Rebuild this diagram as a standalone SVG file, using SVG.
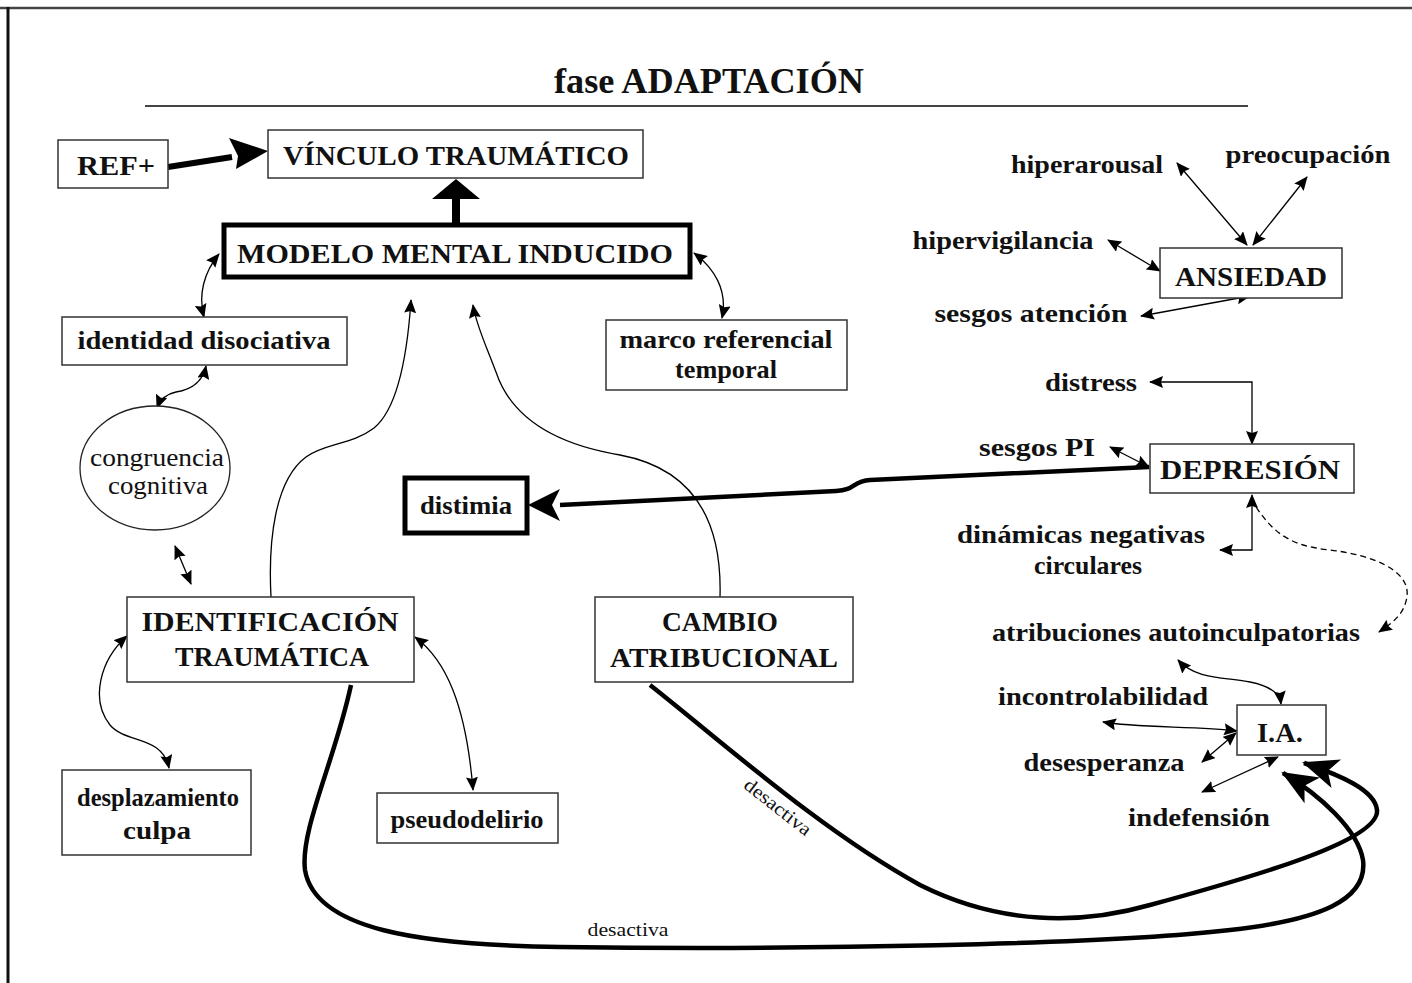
<svg xmlns="http://www.w3.org/2000/svg" width="1412" height="983" viewBox="0 0 1412 983">
<style>
text{font-family:"Liberation Serif","DejaVu Serif",serif;fill:#111;text-anchor:middle}
.b{font-weight:bold}
.cap{font-size:28px}
.lab{font-size:25px}
.box{fill:#fff;stroke:#333;stroke-width:1.5}
.tbox{fill:#fff;stroke:#000;stroke-width:5}
.thin{fill:none;stroke:#000;stroke-width:1.3}
.thick{fill:none;stroke:#000;stroke-width:4.5}
</style>
<defs>
<marker id="a" viewBox="0 0 14 12" refX="13" refY="6" markerWidth="14" markerHeight="12" markerUnits="userSpaceOnUse" orient="auto-start-reverse"><path d="M0,0 L14,6 L0,12 L2,6 z" fill="#000"/></marker>
<marker id="big" viewBox="0 0 36 30" refX="34" refY="15" markerWidth="36" markerHeight="30" markerUnits="userSpaceOnUse" orient="auto"><path d="M0,0 L36,15 L0,30 L9,15 z" fill="#000"/></marker>
</defs>
<rect width="1412" height="983" fill="#fff"/>
<g id="frame">
<line x1="0" y1="8" x2="1412" y2="8" stroke="#444" stroke-width="2.5"/>
<line x1="8" y1="7" x2="8" y2="983" stroke="#111" stroke-width="3"/>
<line x1="145" y1="106" x2="1248" y2="106" stroke="#444" stroke-width="2"/>
<text class="b" x="709" y="93" font-size="36" textLength="310" lengthAdjust="spacingAndGlyphs">fase ADAPTACIÓN</text>
</g>
<g id="connectors">
<line x1="168" y1="167" x2="232" y2="157" stroke="#000" stroke-width="6"/>
<path d="M268,151 L229,138 L238,156 L236,169 z" fill="#000"/>
<rect x="452" y="198" width="8" height="27" fill="#000"/>
<path d="M432,199 L480,199 L456,179 z" fill="#000"/>
<path class="thick" d="M1149,467 L870,480 C852,481 856,490 836,491 L560,505"/>
<path d="M528,505 L560,489 L552,505 L560,521 z" fill="#000"/>
<path class="thin" marker-start="url(#a)" marker-end="url(#a)" d="M204,317 C198,295 204,272 219,254"/>
<path class="thin" marker-start="url(#a)" marker-end="url(#a)" d="M694,253 C714,268 728,290 722,318"/>
<path class="thin" marker-start="url(#a)" marker-end="url(#a)" d="M206,366 C202,385 188,390 176,392 C166,394 160,400 157,408"/>
<path class="thin" marker-start="url(#a)" marker-end="url(#a)" d="M175,546 L191,584"/>
<path class="thin" marker-end="url(#a)" d="M271,597 C268,540 275,480 306,457 C325,443 352,445 374,428 C396,410 407,360 411,300"/>
<path class="thin" marker-end="url(#a)" d="M720,597 C722,530 700,470 620,455 C560,445 512,420 496,372 C486,345 476,325 473,305"/>
<path class="thin" marker-start="url(#a)" marker-end="url(#a)" d="M127,636 C100,660 90,700 110,725 C126,744 162,735 169,768"/>
<path class="thin" marker-start="url(#a)" marker-end="url(#a)" d="M415,637 C446,660 466,705 473,790"/>
<path class="thin" marker-start="url(#a)" marker-end="url(#a)" d="M1177,163 L1247,245"/>
<path class="thin" marker-start="url(#a)" marker-end="url(#a)" d="M1307,177 L1253,245"/>
<path class="thin" marker-start="url(#a)" marker-end="url(#a)" d="M1108,240 L1160,271"/>
<path class="thin" marker-start="url(#a)" marker-end="url(#a)" d="M1141,316 L1250,296"/>
<path class="thin" marker-start="url(#a)" marker-end="url(#a)" d="M1150,382 L1252,382 L1252,444"/>
<path class="thin" marker-start="url(#a)" marker-end="url(#a)" d="M1110,447 L1149,467"/>
<path class="thin" marker-start="url(#a)" marker-end="url(#a)" d="M1252,495 L1252,550 L1220,550"/>
<path class="thin" marker-end="url(#a)" stroke-dasharray="6,4" d="M1256,507 C1275,535 1292,546 1330,550 C1372,555 1410,570 1407,596 C1405,613 1394,622 1379,632"/>
<path class="thin" marker-start="url(#a)" marker-end="url(#a)" d="M1178,660 C1196,680 1226,677 1250,682 C1270,686 1280,694 1281,704"/>
<path class="thin" marker-start="url(#a)" marker-end="url(#a)" d="M1103,722 C1135,728 1200,726 1237,731"/>
<path class="thin" marker-start="url(#a)" marker-end="url(#a)" d="M1202,762 L1236,733"/>
<path class="thin" marker-start="url(#a)" marker-end="url(#a)" d="M1202,792 L1278,757"/>
<path class="thick" marker-end="url(#big)" d="M351,685 C335,760 300,830 305,870 C315,930 420,945 560,947 C800,950 1100,945 1230,930 C1320,920 1368,900 1363,860 C1358,830 1320,795 1283,773"/>
<path class="thick" marker-end="url(#big)" d="M650,685 C720,740 820,830 920,885 C1000,925 1080,925 1150,905 C1260,875 1380,840 1377,810 C1375,790 1340,775 1304,763"/>
<text x="628" y="936" font-size="19" textLength="81" lengthAdjust="spacingAndGlyphs">desactiva</text>
<text x="774" y="812" font-size="19" transform="rotate(38 774 812)" textLength="80" lengthAdjust="spacingAndGlyphs">desactiva</text>
</g>
<g id="ref"><rect class="box" x="58" y="140" width="110" height="48"/><text class="b cap" x="116" y="175" textLength="78" lengthAdjust="spacingAndGlyphs">REF+</text></g>
<g id="vinculo"><rect class="box" x="268" y="130" width="375" height="48"/><text class="b cap" x="456" y="165" textLength="346" lengthAdjust="spacingAndGlyphs">VÍNCULO TRAUMÁTICO</text></g>
<g id="modelo"><rect class="tbox" x="224" y="225" width="466" height="52"/><text class="b cap" x="455" y="263" textLength="436" lengthAdjust="spacingAndGlyphs">MODELO MENTAL INDUCIDO</text></g>
<g id="identidad"><rect class="box" x="62" y="317" width="285" height="48"/><text class="b lab" x="204" y="349" textLength="253" lengthAdjust="spacingAndGlyphs">identidad disociativa</text></g>
<g id="marco"><rect class="box" x="606" y="320" width="241" height="70"/><text class="b lab" x="726" y="348" textLength="213" lengthAdjust="spacingAndGlyphs">marco referencial</text><text class="b lab" x="726" y="378" textLength="102" lengthAdjust="spacingAndGlyphs">temporal</text></g>
<g id="congruencia"><ellipse cx="155" cy="468" rx="75" ry="62" fill="#fff" stroke="#222" stroke-width="1.3"/><text class="lab" x="157" y="466" textLength="134" lengthAdjust="spacingAndGlyphs">congruencia</text><text class="lab" x="158" y="494" textLength="100" lengthAdjust="spacingAndGlyphs">cognitiva</text></g>
<g id="distimia"><rect class="tbox" x="405" y="478" width="122" height="55"/><text class="b lab" x="466" y="514" textLength="92" lengthAdjust="spacingAndGlyphs">distimia</text></g>
<g id="identificacion"><rect class="box" x="127" y="597" width="287" height="85"/><text class="b cap" x="270" y="631" textLength="257" lengthAdjust="spacingAndGlyphs">IDENTIFICACIÓN</text><text class="b cap" x="272" y="666" textLength="194" lengthAdjust="spacingAndGlyphs">TRAUMÁTICA</text></g>
<g id="cambio"><rect class="box" x="595" y="597" width="258" height="85"/><text class="b cap" x="720" y="631" textLength="116" lengthAdjust="spacingAndGlyphs">CAMBIO</text><text class="b cap" x="724" y="667" textLength="228" lengthAdjust="spacingAndGlyphs">ATRIBUCIONAL</text></g>
<g id="desplazamiento"><rect class="box" x="62" y="770" width="189" height="85"/><text class="b lab" x="158" y="806" textLength="162" lengthAdjust="spacingAndGlyphs">desplazamiento</text><text class="b lab" x="157" y="839" textLength="68" lengthAdjust="spacingAndGlyphs">culpa</text></g>
<g id="pseudodelirio"><rect class="box" x="377" y="793" width="181" height="50"/><text class="b lab" x="467" y="828" textLength="153" lengthAdjust="spacingAndGlyphs">pseudodelirio</text></g>
<g id="ansiedad"><rect class="box" x="1160" y="248" width="182" height="50"/><text class="b cap" x="1251" y="286" textLength="152" lengthAdjust="spacingAndGlyphs">ANSIEDAD</text></g>
<g id="depresion"><rect class="box" x="1150" y="444" width="204" height="49"/><text class="b cap" x="1250" y="479" textLength="180" lengthAdjust="spacingAndGlyphs">DEPRESIÓN</text></g>
<g id="ia"><rect class="box" x="1237" y="705" width="89" height="50"/><text class="b cap" x="1280" y="742" textLength="46" lengthAdjust="spacingAndGlyphs">I.A.</text></g>
<g id="labels">
<text class="b lab" x="1087" y="173" textLength="152" lengthAdjust="spacingAndGlyphs">hiperarousal</text>
<text class="b lab" x="1308" y="163" textLength="165" lengthAdjust="spacingAndGlyphs">preocupación</text>
<text class="b lab" x="1003" y="249" textLength="181" lengthAdjust="spacingAndGlyphs">hipervigilancia</text>
<text class="b lab" x="1031" y="322" textLength="193" lengthAdjust="spacingAndGlyphs">sesgos atención</text>
<text class="b lab" x="1091" y="391" textLength="92" lengthAdjust="spacingAndGlyphs">distress</text>
<text class="b lab" x="1037" y="456" textLength="116" lengthAdjust="spacingAndGlyphs">sesgos PI</text>
<text class="b lab" x="1081" y="543" textLength="248" lengthAdjust="spacingAndGlyphs">dinámicas negativas</text>
<text class="b lab" x="1088" y="574" textLength="108" lengthAdjust="spacingAndGlyphs">circulares</text>
<text class="b lab" x="1176" y="641" textLength="368" lengthAdjust="spacingAndGlyphs">atribuciones autoinculpatorias</text>
<text class="b lab" x="1103" y="705" textLength="210" lengthAdjust="spacingAndGlyphs">incontrolabilidad</text>
<text class="b lab" x="1104" y="771" textLength="161" lengthAdjust="spacingAndGlyphs">desesperanza</text>
<text class="b lab" x="1199" y="826" textLength="142" lengthAdjust="spacingAndGlyphs">indefensión</text>
</g>
</svg>
